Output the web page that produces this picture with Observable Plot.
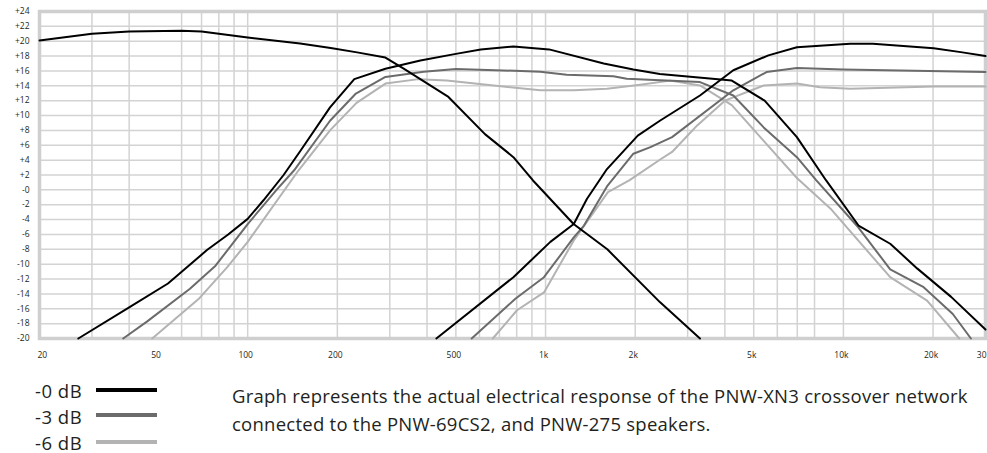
<!DOCTYPE html>
<html>
<head>
<meta charset="utf-8">
<script src="https://cdn.jsdelivr.net/npm/d3@7"></script>
<script src="https://cdn.jsdelivr.net/npm/@observablehq/plot@0.6"></script>
<style>
  html, body { margin: 0; padding: 0; background: #fff; }
  #wrap { width: 987px; position: relative; }
  #below { position: relative; height: 88px; font-family: "Open Sans", sans-serif; color: #231f20; }
  .lg { position: absolute; left: 35px; font-size: 18.5px; line-height: 20px; letter-spacing: 0.5px; white-space: nowrap; }
  .sw { position: absolute; left: 96px; width: 61px; height: 4px; }
  #cap { position: absolute; left: 232px; top: 16.9px; font-size: 18.5px; line-height: 28.4px; letter-spacing: 0.25px; white-space: nowrap; }
</style>
</head>
<body>
<div id="wrap">
  <div id="chart"></div>
  <div id="below"></div>
</div>
<script>
// ---- data (frequency in Hz, level in dB) ----
const levels = ["-0 dB", "-3 dB", "-6 dB"];

// woofer low-pass (0 dB only)
const woofer0 = [[20,20.1],[30,21.0],[40,21.3],[60,21.4],[70,21.3],[100,20.5],[150,19.7],[190,19.1],[233,18.5],[290,17.8],[334,16.3],[472,12.5],[626,7.5],[780,4.4],[906,1.3],[1242,-4.6],[1612,-8.0],[2420,-15.1],[3300,-20]];

// midrange band-pass
const mid0 = [[27,-20],[40,-15.8],[54,-12.6],[73,-8.1],[86,-6.0],[100,-3.9],[113,-1.4],[132,2.0],[150,5.2],[189,11.1],[228,14.9],[290,16.3],[380,17.4],[500,18.3],[606,18.9],[780,19.3],[1028,18.9],[1568,17.0],[1972,16.2],[2420,15.6],[4220,14.7],[5440,12.0],[6980,7.1],[8740,1.3],[11240,-4.8],[14360,-7.25],[17720,-10.6],[23000,-14.4],[30000,-18.8]];
const mid3 = [[38.2,-20],[46,-17.7],[64,-13.3],[78,-10.2],[100,-4.6],[125.6,0.1],[143,2.6],[189,9.3],[230,12.9],[290,15.2],[390,15.9],[500,16.25],[722,16.07],[960,15.9],[1178,15.5],[1690,15.3],[1874,14.95],[3300,14.5],[4270,12.7],[5400,8.4],[6980,4.4],[8100,1.3],[11200,-5.0],[14360,-10.7],[18600,-13.1],[23300,-16.7],[26800,-20]];
const mid6 = [[47.8,-20],[68.4,-14.7],[85.4,-10.4],[100,-7.0],[148,2.6],[189,8.0],[232,11.7],[290,14.3],[375,14.9],[466,14.7],[670,14.05],[960,13.4],[1244,13.4],[1608,13.6],[2080,14.15],[2620,14.7],[3300,14.05],[4220,11.4],[5400,6.6],[6980,1.6],[9040,-2.5],[14360,-11.75],[19100,-14.9],[24500,-20]];

// tweeter high-pass
const tweet0 = [[430,-20],[780,-11.75],[1038,-7.0],[1244,-4.6],[1378,-1.2],[1608,2.8],[2040,7.3],[2420,9.3],[3300,12.7],[4270,16.1],[5600,18.1],[6980,19.2],[10540,19.66],[12560,19.66],[20100,19.07],[25100,18.5],[30000,18.0]];
const tweet3 = [[565,-20],[792,-14.66],[988,-11.75],[1244,-6.4],[1346,-4.8],[1608,0.46],[1972,4.86],[2250,5.75],[2660,7.1],[4270,13.4],[5520,15.85],[6980,16.4],[10000,16.2],[30000,15.85]];
const tweet6 = [[665,-20],[802,-16.2],[988,-13.8],[1244,-6.8],[1620,-0.3],[1916,1.3],[2420,4.05],[2660,5.1],[3230,8.67],[4000,12.0],[5400,14.05],[6980,14.3],[8340,13.8],[10540,13.6],[20100,13.9],[30000,13.9]];

// axes
const yTicks = [24,22,20,18,16,14,12,10,8,6,4,2,0,-2,-4,-6,-8,-10,-12,-14,-16,-18,-20];
const yTickLabels = ["+24","+22","+20","+18","+16","+14","+12","+10","+8","+6","+4","+2","-0","-2","-4","-6","-8","-10","-12","-14","-16","-18","-20"];
const xTicks = [20,50,100,200,500,1000,2000,5000,10000,20000,30000];
const xTickLabels = ["20","50","100","200","500","1k","2k","5k","10k","20k","30"];
const xGrid = [30,40,60,70,80,90,100,200,300,400,500,600,700,800,900,1000,2000,3000,4000,5000,6000,7000,8000,10000,20000];

const caption = ["Graph represents the actual electrical response of the PNW-XN3 crossover network",
                 "connected to the PNW-69CS2, and PNW-275 speakers."];

// ---- build ----
const colors = {"-0 dB": "#000000", "-3 dB": "#6b6b6b", "-6 dB": "#b3b3b3"};
const curvesByLevel = {
  "-0 dB": [woofer0, mid0, tweet0],
  "-3 dB": [mid3, tweet3],
  "-6 dB": [mid6, tweet6]
};
function rowsFor(level) {
  const rows = [];
  curvesByLevel[level].forEach((c, i) => c.forEach(([f, db]) => rows.push({f, db, id: level + i})));
  return rows;
}
const yLab = new Map(yTicks.map((t, i) => [t, yTickLabels[i]]));
const xRows = xTicks.map((t, i) => ({f: t, label: xTickLabels[i]}));
const xFirst = xRows.slice(0, 1);
const xMid = xRows.slice(1, -1);
const xLast = xRows.slice(-1);
const yMin = -20;

const chart = Plot.plot({
  width: 987,
  height: 365,
  marginLeft: 39,
  marginRight: 2,
  marginTop: 11,
  marginBottom: 27,
  style: {fontFamily: "'Open Sans', sans-serif", fontSize: "8.5px", color: "#231f20", background: "#fff"},
  x: {type: "log", domain: [20, 30000], axis: null},
  y: {domain: [-20, 24]},
  marks: [
    Plot.ruleY(yTicks, {stroke: "#d3d3d3", strokeWidth: 1.5}),
    Plot.ruleX(xGrid, {stroke: "#d3d3d3", strokeWidth: 1.5}),
    Plot.frame({stroke: "#cfcfcf", strokeWidth: 3.5}),
    Plot.line(rowsFor("-6 dB"), {x: "f", y: "db", z: "id", stroke: colors["-6 dB"], strokeWidth: 2, curve: "linear"}),
    Plot.line(rowsFor("-3 dB"), {x: "f", y: "db", z: "id", stroke: colors["-3 dB"], strokeWidth: 2, curve: "linear"}),
    Plot.line(rowsFor("-0 dB"), {x: "f", y: "db", z: "id", stroke: colors["-0 dB"], strokeWidth: 2, curve: "linear"}),
    Plot.axisY({ticks: yTicks, tickFormat: d => yLab.get(d), tickSize: 0, tickPadding: 10, label: null}),
    Plot.text(xFirst, {x: "f", y: () => yMin, text: "label", dy: 17, dx: -2, textAnchor: "start", fill: "#231f20"}),
    Plot.text(xMid, {x: "f", y: () => yMin, text: "label", dy: 17, dx: -2, textAnchor: "middle", fill: "#231f20"}),
    Plot.text(xLast, {x: "f", y: () => yMin, text: "label", dy: 17, dx: 1, textAnchor: "end", fill: "#231f20"})
  ]
});
document.getElementById("chart").appendChild(chart);

// legend + caption below the svg
const below = document.getElementById("below");
const textTops = [16.1, 41.8, 67.8];
const swTops = [24.7, 50.3, 77];
levels.forEach((lv, i) => {
  const t = document.createElement("div");
  t.className = "lg";
  t.style.top = textTops[i] + "px";
  t.textContent = lv;
  below.appendChild(t);
  const s = document.createElement("div");
  s.className = "sw";
  s.style.top = (swTops[i] - 2) + "px";
  s.style.background = colors[lv];
  below.appendChild(s);
});
const cap = document.createElement("div");
cap.id = "cap";
caption.forEach((line, i) => {
  if (i) cap.appendChild(document.createElement("br"));
  cap.appendChild(document.createTextNode(line));
});
below.appendChild(cap);
</script>
</body>
</html>
